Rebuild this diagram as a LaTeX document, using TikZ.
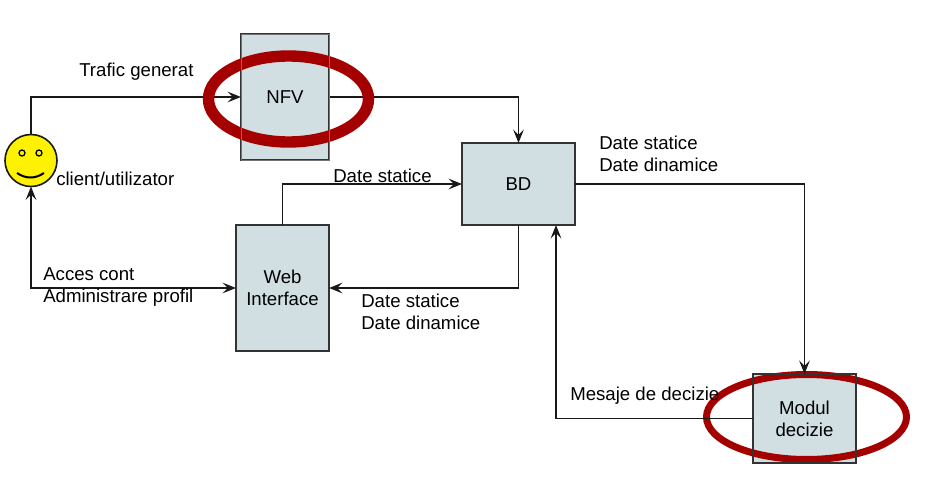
\documentclass[tikz,border=0pt]{standalone}
\usepackage{fontspec}
\setmainfont{Liberation Sans}
\usetikzlibrary{arrows.meta, positioning}

\begin{document}
\begin{tikzpicture}[
  x=0.25mm, y=-0.25mm,
  font=\fontsize{13.25}{15.7}\selectfont,
  block/.style={draw=black!80, fill=blockfill, line width=0.38mm, outer sep=0pt,
                inner sep=0pt, align=center},
  link/.style={-{Stealth[length=3.4mm, width=2.7mm, inset=1.4mm]}, line width=0.4mm, black!90},
  lbl/.style={anchor=west, inner sep=0pt, align=left},
  ring/.style={draw=ringred},
  edge/.style={draw=black!55, line width=0.2mm}
]
\definecolor{blockfill}{HTML}{D1DFE3}
\definecolor{ringred}{HTML}{A50000}
\useasboundingbox (0,0) rectangle (934,495);

%% ---------- blocks ----------
\node[block, minimum width=22mm, minimum height=31.5mm] (nfv) at (285,97) {NFV};
\node[block, minimum width=28.25mm, minimum height=20.5mm] (bd) at (518.5,184) {BD};
\node[block, minimum width=23.25mm, minimum height=31.5mm] (web) at (282.5,288) {Web\\Interface};
\node[block, minimum width=25.75mm, minimum height=22.25mm] (modul) at (804.5,418.5) {Modul\\decizie};

%% ---------- client ----------
\node[draw=black!90, fill=yellow, circle, line width=0.4mm, minimum size=13mm,
      inner sep=0pt, outer sep=0pt] (client) at (31,160.5) {};
\draw[line width=0.33mm] (22,153) circle (3);
\draw[line width=0.33mm] (39,153) circle (3);
\draw[line width=0.5mm] (17,173) .. controls (26,179) and (35,179) .. (44,173);
\coordinate (bdin) at (556,225);

%% ---------- links under the rings ----------
\draw[link] (client.north) |- (nfv.west);
\draw[link] (nfv.east) -| (bd.north);

%% ---------- rings ----------
\draw[ring, line width=2.85mm] (288.5,99) ellipse [x radius=80, y radius=43];
\draw[edge] (nfv.south west) rectangle (nfv.north east);
\draw[ring, line width=1.75mm] (806.5,417) ellipse [x radius=100, y radius=42.5];
\draw[black!80, line width=0.5mm] (modul.south west) rectangle (modul.north east);

%% ---------- other links ----------
\draw[link] (web.north) |- (bd.west);
\draw[link] (bd.south) |- (web.east);
\draw[link, {Stealth[length=3.4mm, width=2.7mm, inset=1.4mm]}-{Stealth[length=3.4mm, width=2.7mm, inset=1.4mm]}] (client.south) |- (web.west);
\draw[link] (bd.east) -| (modul.north);
\draw[link] (modul.west) -| (bdin);

%% ---------- labels ----------
\node[lbl] (trafic) at (79,71.5) {Trafic generat};
\node[lbl] (clientlbl) at (56,179) {client/utilizator};
\node[lbl] (webbd) at (333,175.5) {Date statice};
\node[lbl] (bdmodul) at (599,153.5) {Date statice\\Date dinamice};
\node[lbl] (cont) at (43,287) {Acces cont\\Administrare profil};
\node[lbl] (bdweb) at (361,311.5) {Date statice\\Date dinamice};
\node[lbl] (mesaje) at (570,396) {Mesaje de decizie};
\end{tikzpicture}
\end{document}
